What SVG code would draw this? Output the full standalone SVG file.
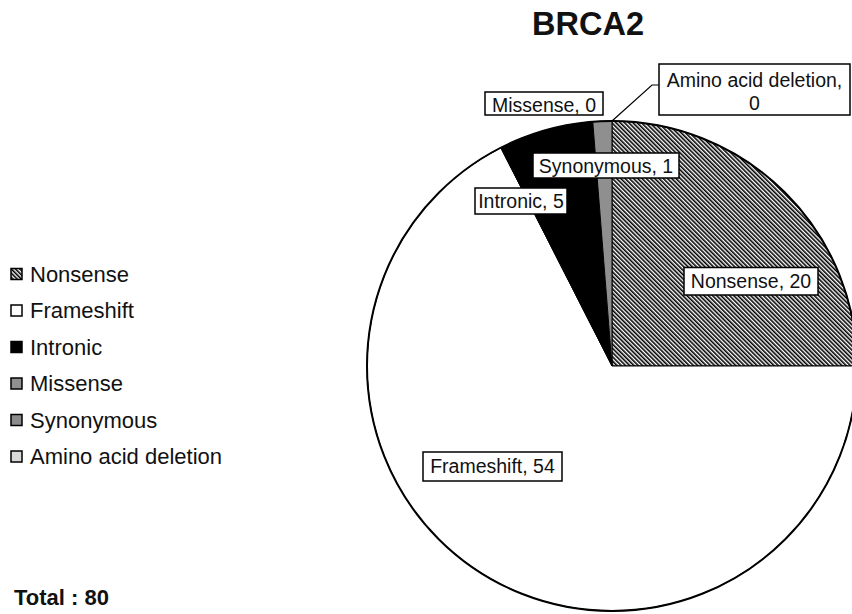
<svg xmlns="http://www.w3.org/2000/svg" width="852" height="614" viewBox="0 0 852 614">
<defs>
<pattern id="hatch" width="3" height="3" patternUnits="userSpaceOnUse" patternTransform="rotate(-45)">
<rect x="0" y="0" width="3" height="3" fill="#fff"/>
<rect x="0" y="0" width="1.6" height="3" fill="#000"/>
</pattern>
</defs>
<style>
text{font-family:"Liberation Sans",Arial,sans-serif;fill:#111}
.lab{font-size:19.5px;text-anchor:middle}
.leg{font-size:22px}
.box{fill:#fff;stroke:#000;stroke-width:1.5}
.sl{stroke:#000;stroke-width:1}
.mk{stroke:#000;stroke-width:1.5}
</style>
<rect width="852" height="614" fill="#fff"/>
<text x="588" y="35" style="font-size:32.5px;font-weight:bold;text-anchor:middle">BRCA2</text>
<g id="pie">
<g id="slice-nonsense"><path class="sl" d="M612,366 L612,121 A245,245 0 0 1 857,366 Z" fill="url(#hatch)"/></g>
<g id="slice-frameshift"><path class="sl" d="M612,366 L857,366 A245,245 0 1 1 500.78,147.71 Z" fill="#fff"/></g>
<g id="slice-intronic"><path class="sl" d="M612,366 L500.78,147.71 A245,245 0 0 1 592.78,121.75 Z" fill="#000"/></g>
<g id="slice-synonymous"><path class="sl" d="M612,366 L592.78,121.75 A245,245 0 0 1 612,121 Z" fill="#8f8f8f"/></g>
<circle cx="612" cy="366" r="245" fill="none" stroke="#000" stroke-width="2"/>
</g>
<g id="connectors">
<polyline points="612,121 652,85 659,85" fill="none" stroke="#000" stroke-width="1.2"/>
</g>
<g id="label-aad"><rect class="box" x="659" y="64" width="191" height="51"/><text class="lab" x="754.5" y="87">Amino acid deletion,</text><text class="lab" x="754.5" y="109.5">0</text></g>
<g id="label-missense"><rect class="box" x="485" y="92" width="118" height="23"/><text class="lab" x="544" y="112">Missense, 0</text></g>
<g id="label-synonymous"><rect class="box" x="533" y="153" width="146" height="25"/><text class="lab" x="606" y="173">Synonymous, 1</text></g>
<g id="label-intronic"><rect class="box" x="475" y="188" width="92" height="26"/><text class="lab" x="521" y="208">Intronic, 5</text></g>
<g id="label-nonsense"><rect class="box" x="684" y="267.5" width="134" height="27.5"/><text class="lab" x="751" y="288">Nonsense, 20</text></g>
<g id="label-frameshift"><rect class="box" x="423" y="452" width="139" height="29"/><text class="lab" x="492.5" y="473">Frameshift, 54</text></g>
<g id="legend">
<g id="leg-nonsense"><rect class="mk" x="11" y="268.5" width="11" height="11" fill="url(#hatch)"/><text class="leg" x="30" y="282">Nonsense</text></g>
<g id="leg-frameshift"><rect class="mk" x="11" y="305" width="11" height="11" fill="#fff"/><text class="leg" x="30" y="318">Frameshift</text></g>
<g id="leg-intronic"><rect class="mk" x="11" y="341.5" width="11" height="11" fill="#000"/><text class="leg" x="30" y="354.5">Intronic</text></g>
<g id="leg-missense"><rect class="mk" x="11" y="378" width="11" height="11" fill="#909090"/><text class="leg" x="30" y="391">Missense</text></g>
<g id="leg-synonymous"><rect class="mk" x="11" y="414.5" width="11" height="11" fill="#8c8c8c"/><text class="leg" x="30" y="427.5">Synonymous</text></g>
<g id="leg-aad"><rect class="mk" x="11" y="451" width="11" height="11" fill="#d9d9d9"/><text class="leg" x="30" y="464">Amino acid deletion</text></g>
</g>
<text x="14" y="605" style="font-size:22px;font-weight:bold">Total : 80</text>
</svg>
